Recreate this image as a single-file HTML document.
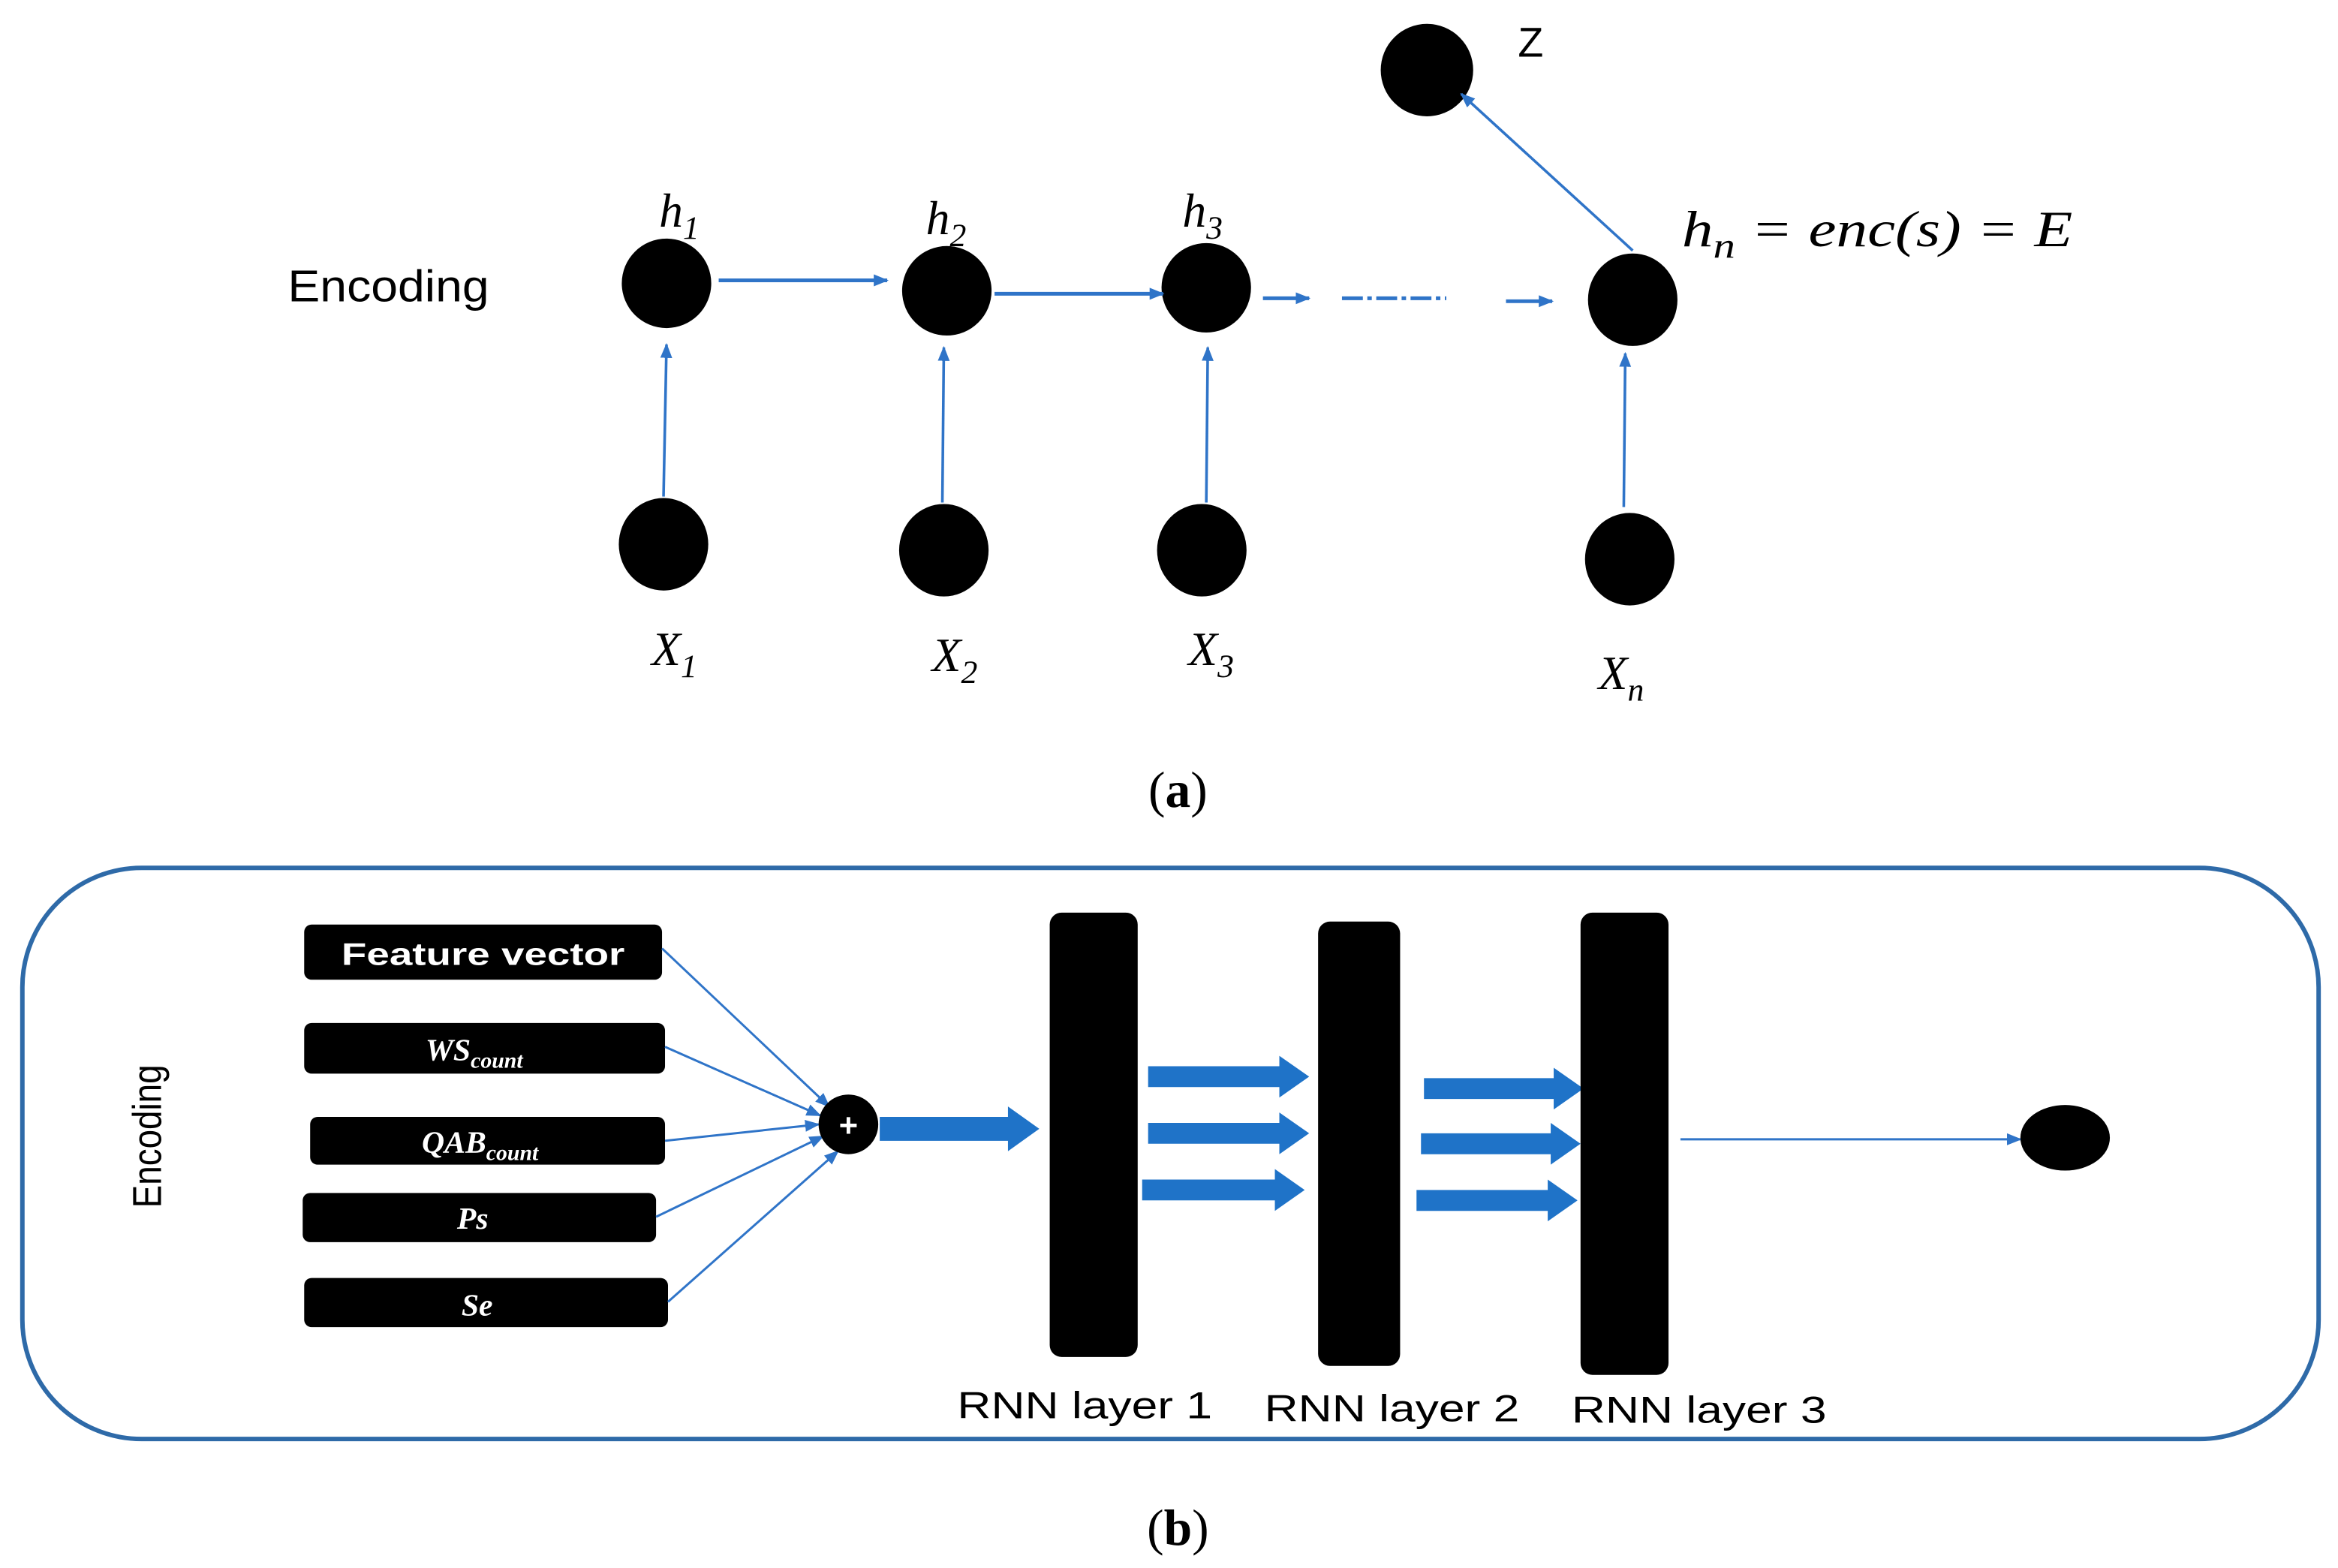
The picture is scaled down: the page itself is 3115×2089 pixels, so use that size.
<!DOCTYPE html>
<html><head><style>html,body{margin:0;padding:0;background:#fff}svg{display:block}</style></head><body>
<svg width="3115" height="2089" viewBox="0 0 1568 1051.5" preserveAspectRatio="none" xmlns="http://www.w3.org/2000/svg">
<defs>
<marker id="ah" markerWidth="10" markerHeight="10" refX="9" refY="5" orient="auto" markerUnits="userSpaceOnUse"><path d="M0,1 L10,5 L0,9 Z" fill="#2f74c8"/></marker>
</defs>
<g fill="#000">
<ellipse cx="447" cy="190" rx="30" ry="30"/><ellipse cx="635" cy="195" rx="30" ry="30"/>
<ellipse cx="809" cy="193" rx="30" ry="30"/><ellipse cx="1095" cy="201" rx="30" ry="31"/>
<ellipse cx="957" cy="47" rx="31" ry="31"/>
<ellipse cx="445" cy="365" rx="30" ry="31"/><ellipse cx="633" cy="369" rx="30" ry="31"/>
<ellipse cx="806" cy="369" rx="30" ry="31"/><ellipse cx="1093" cy="375" rx="30" ry="31"/>
</g>
<g stroke="#2f74c8" stroke-width="1.8" fill="none" marker-end="url(#ah)">
<line x1="445" y1="333" x2="447" y2="231"/><line x1="632" y1="337" x2="633" y2="233"/>
<line x1="809" y1="337" x2="810" y2="233"/><line x1="1089" y1="340" x2="1090" y2="237"/>
<line x1="482" y1="188" x2="595" y2="188" stroke-width="2.5"/>
<line x1="667" y1="197" x2="780" y2="197" stroke-width="2.5"/>
<line x1="847" y1="200" x2="878" y2="200" stroke-width="2.5"/>
<line x1="1010" y1="202" x2="1041" y2="202" stroke-width="2.5"/>
<line x1="1095" y1="168" x2="980" y2="63"/>
</g>
<line x1="900" y1="200" x2="970" y2="200" stroke="#2f74c8" stroke-width="2.5" stroke-dasharray="14,3,3,3"/>
<g font-family="Liberation Serif, serif" font-style="italic" font-size="32" fill="#000">
<text x="442" y="152">h<tspan font-size="22" dy="8">1</tspan></text>
<text x="621" y="157">h<tspan font-size="22" dy="8">2</tspan></text>
<text x="793" y="152">h<tspan font-size="22" dy="8">3</tspan></text>
<text x="1128" y="165" font-size="34" textLength="262" lengthAdjust="spacingAndGlyphs">h<tspan font-size="24" dy="8">n</tspan><tspan dy="-8"> = enc(s) = E</tspan></text>
<text x="437" y="446">X<tspan font-size="22" dy="8">1</tspan></text>
<text x="625" y="450">X<tspan font-size="22" dy="8">2</tspan></text>
<text x="797" y="446">X<tspan font-size="22" dy="8">3</tspan></text>
<text x="1072" y="462">X<tspan font-size="22" dy="8">n</tspan></text>
</g>
<text x="1018" y="38" font-family="Liberation Sans, sans-serif" font-size="28">Z</text>
<text x="193" y="202" font-family="Liberation Sans, sans-serif" font-size="30" textLength="135" lengthAdjust="spacingAndGlyphs">Encoding</text>
<text x="790" y="541" font-family="Liberation Serif, serif" font-size="34" text-anchor="middle">(<tspan font-weight="bold">a</tspan>)</text>

<rect x="15" y="582" width="1540" height="383" rx="80" ry="80" fill="none" stroke="#2e6aa8" stroke-width="3"/>
<text transform="translate(108,762) rotate(-90)" font-family="Liberation Sans, sans-serif" font-size="27" text-anchor="middle" textLength="96" lengthAdjust="spacingAndGlyphs">Encoding</text>
<g fill="#000">
<rect x="204" y="620" width="240" height="37" rx="5"/>
<rect x="204" y="686" width="242" height="34" rx="5"/>
<rect x="208" y="749" width="238" height="32" rx="5"/>
<rect x="203" y="800" width="237" height="33" rx="5"/>
<rect x="204" y="857" width="244" height="33" rx="5"/>
</g>
<g fill="#fff" font-family="Liberation Serif, serif" font-weight="bold" font-size="21" text-anchor="middle">
<text x="324" y="647" font-family="Liberation Sans, sans-serif" font-size="21" textLength="190" lengthAdjust="spacingAndGlyphs">Feature vector</text>
<text x="318" y="711" font-style="italic">WS<tspan font-size="15" dy="5">count</tspan></text>
<text x="322" y="773" font-style="italic">QAB<tspan font-size="15" dy="5">count</tspan></text>
<text x="317" y="824" font-style="italic">Ps</text>
<text x="320" y="882" font-style="italic">Se</text>
</g>
<g stroke="#2f74c8" stroke-width="1.5" marker-end="url(#ah)">
<line x1="444" y1="636" x2="556" y2="742"/>
<line x1="446" y1="702" x2="550" y2="748"/>
<line x1="446" y1="765" x2="549" y2="754"/>
<line x1="440" y1="816" x2="552" y2="762"/>
<line x1="448" y1="873" x2="562" y2="772"/>
<line x1="1127" y1="764" x2="1355" y2="764"/>
</g>
<circle cx="569" cy="754" r="20" fill="#000"/>
<text x="569" y="762" fill="#fff" font-family="Liberation Sans, sans-serif" font-size="22" font-weight="bold" text-anchor="middle">+</text>
<g fill="#1f73c8">
<path d="M590,749 H676 V742 L697,757 L676,772 V765 H590 Z"/>
<path d="M770,715 H858 V708 L878,722 L858,736 V729 H770 Z"/>
<path d="M770,753 H858 V746 L878,760 L858,774 V767 H770 Z"/>
<path d="M766,791 H855 V784 L875,798 L855,812 V805 H766 Z"/>
<path d="M955,723 H1042 V716 L1062,730 L1042,744 V737 H955 Z"/>
<path d="M953,760 H1040 V753 L1060,767 L1040,781 V774 H953 Z"/>
<path d="M950,798 H1038 V791 L1058,805 L1038,819 V812 H950 Z"/>
</g>
<g fill="#000">
<rect x="704" y="612" width="59" height="298" rx="8"/>
<rect x="884" y="618" width="55" height="298" rx="8"/>
<rect x="1060" y="612" width="59" height="310" rx="8"/>
<ellipse cx="1385" cy="763" rx="30" ry="22"/>
</g>
<g font-family="Liberation Sans, sans-serif" font-size="25">
<text x="642" y="951" textLength="171" lengthAdjust="spacingAndGlyphs">RNN layer 1</text>
<text x="848" y="953" textLength="171" lengthAdjust="spacingAndGlyphs">RNN layer 2</text>
<text x="1054" y="954" textLength="171" lengthAdjust="spacingAndGlyphs">RNN layer 3</text>
</g>
<text x="790" y="1036" font-family="Liberation Serif, serif" font-size="34" text-anchor="middle">(<tspan font-weight="bold">b</tspan>)</text>
</svg>
</body></html>
